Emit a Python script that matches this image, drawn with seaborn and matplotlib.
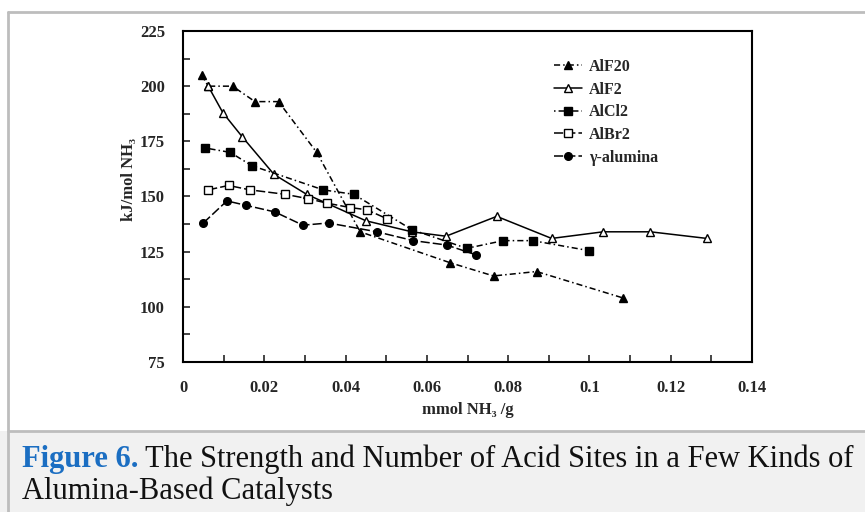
import matplotlib
matplotlib.use('Agg')
import matplotlib.pyplot as plt
import seaborn as sns
from matplotlib.patches import Rectangle
from matplotlib.lines import Line2D

# data
alf20_x = [0.0046, 0.0062, 0.0122, 0.0177, 0.0235, 0.0329, 0.0436, 0.0657, 0.0764, 0.0870, 0.1083]
alf20_y = [205, 200, 200, 193, 193, 170, 134, 120, 114, 116, 104]

alf2_x = [0.0062, 0.0098, 0.0146, 0.0224, 0.0304, 0.0450, 0.0563, 0.0647, 0.0772, 0.0907, 0.1034, 0.1150, 0.1289]
alf2_y = [200, 188, 177, 160, 151, 139, 134, 132, 141, 131, 134, 134, 131]

alcl2_x = [0.0054, 0.0116, 0.0169, 0.0345, 0.0420, 0.0563, 0.0698, 0.0788, 0.0860, 0.0998]
alcl2_y = [172, 170, 164, 153, 151, 135, 126.5, 130, 130, 125.5]

albr2_x = [0.0062, 0.0112, 0.0165, 0.0251, 0.0308, 0.0354, 0.0411, 0.0452, 0.0501]
albr2_y = [153, 155, 153, 151, 149, 147, 145, 144, 140]

gamma_x = [0.0050, 0.0108, 0.0155, 0.0226, 0.0295, 0.0358, 0.0477, 0.0567, 0.0649, 0.0722]
gamma_y = [138, 148, 146, 143, 137, 138, 134, 130, 128, 123.5]

labels = ['AlF20', 'AlF2', 'AlCl2', 'AlBr2', 'γ-alumina']
xticks = [0, 0.02, 0.04, 0.06, 0.08, 0.1, 0.12, 0.14]
xticklabels = ['0', '0.02', '0.04', '0.06', '0.08', '0.1', '0.12', '0.14']
yticks = [75, 100, 125, 150, 175, 200, 225]

sns.set_style('ticks')
plt.rcParams['font.family'] = ['Liberation Serif', 'DejaVu Serif']

fig = plt.figure(figsize=(8.65, 5.12), dpi=100)
fig.patch.set_facecolor('white')

# outer frame and caption box
fig.patches.append(Rectangle((0, 0), 1, 81 / 512, transform=fig.transFigure,
                             facecolor='#f1f1f1', edgecolor='none', zorder=0))
fig.add_artist(Line2D([8 / 865, 1], [1 - 11.5 / 512] * 2, color='#bdbdbd', lw=2))
fig.add_artist(Line2D([8 / 865, 8 / 865], [0, 1 - 11.5 / 512], color='#bdbdbd', lw=2))
fig.add_artist(Line2D([8 / 865, 1], [81 / 512] * 2, color='#bdbdbd', lw=2))

ax = fig.add_axes([183 / 865, 1 - 362 / 512, 569 / 865, 331 / 512])

series = [
    (alf20_x, alf20_y, '^', 'black', (0, (4, 2, 1, 2))),
    (alf2_x, alf2_y, '^', 'white', '-'),
    (alcl2_x, alcl2_y, 's', 'black', (0, (1, 2, 4, 2))),
    (albr2_x, albr2_y, 's', 'white', (0, (6, 2))),
    (gamma_x, gamma_y, 'o', 'black', (0, (6, 2))),
]
for (xs, ys, mk, mfc, ls), lab in zip(series, labels):
    sns.lineplot(x=xs, y=ys, ax=ax, color='black', marker=mk, markersize=5.5,
                 markerfacecolor=mfc, markeredgecolor='black', markeredgewidth=1.0,
                 linestyle=ls, linewidth=1.1, label=lab, errorbar=None)

ax.set_xlim(0, 0.14)
ax.set_ylim(75, 225)
ax.set_xticks(xticks)
ax.set_xticklabels(xticklabels)
ax.set_xticks([i / 100 for i in range(15)], minor=True)
ax.set_yticks(yticks)
ax.set_yticks([75 + 12.5 * i for i in range(13)], minor=True)
ax.tick_params(axis='both', which='both', direction='in', length=5, width=1.2,
               labelsize=12, pad=13)
for t in ax.get_xticklabels() + ax.get_yticklabels():
    t.set_fontweight('bold')
for s in ax.spines.values():
    s.set_linewidth(1.5)
    s.set_color('black')

ax.set_xlabel('mmol NH₃ /g', fontsize=12, fontweight='bold')
ax.xaxis.set_label_coords(0.5, -0.12)
ax.set_ylabel('kJ/mol NH₃', fontsize=12, fontweight='bold')
ax.yaxis.set_label_coords(-0.08, 0.55)

ax.legend(loc='upper left', bbox_to_anchor=(0.64, 0.935), frameon=False,
          prop={'weight': 'bold', 'size': 11.5}, handlelength=1.8,
          handletextpad=0.4, labelspacing=0.42, borderaxespad=0)

# caption
renderer = fig.canvas.get_renderer()
t1 = fig.text(22 / 865, 1 - 467 / 512, 'Figure 6.', color='#1b6ec2', fontsize=22,
              fontweight='bold', va='baseline')
bb = t1.get_window_extent(renderer=renderer)
fig.text(bb.x1 / fig.bbox.width, 1 - 467 / 512,
         ' The Strength and Number of Acid Sites in a Few Kinds of',
         color='#111111', fontsize=22, va='baseline')
fig.text(22 / 865, 1 - 499 / 512, 'Alumina-Based Catalysts', color='#111111',
         fontsize=22, va='baseline')

fig.savefig('out.png', dpi=100)
